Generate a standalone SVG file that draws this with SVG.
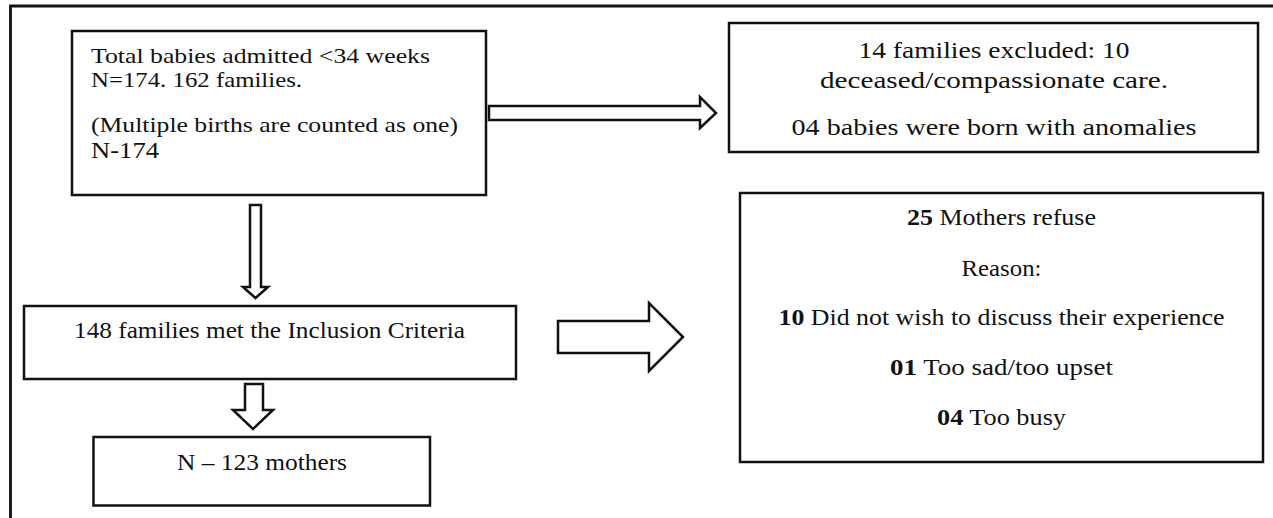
<svg xmlns="http://www.w3.org/2000/svg" width="1273" height="518" viewBox="0 0 1273 518">
<style>
.box{fill:#fff;stroke:#111;stroke-width:2.5}
.arrow{fill:#fff;stroke:#111;stroke-width:2.5;stroke-linejoin:miter}
.frame{fill:none;stroke:#111;stroke-width:2.8}
text{font-family:"Liberation Serif","Times New Roman",serif;fill:#111}
.c{text-anchor:middle}
.b{font-weight:bold}
</style>
<rect x="0" y="0" width="1273" height="518" fill="#fff"/>
<g id="frame">
<polyline class="frame" points="10.5,518 10.5,6 1273,6"/>
</g>
<g id="connectors">
<polygon class="arrow" points="489,106 700,106 700,97 716,113 700,128 700,120 489,120"/>
<polygon class="arrow" points="250,205 261,205 261,287 268,287 255.5,298 243,287 250,287"/>
<polygon class="arrow" points="245,384 263,384 263,410 273,410 253,429 233,410 245,410"/>
<polygon class="arrow" points="558,321 649,321 649,303 683,337 649,371 649,353 558,353"/>
</g>
<g id="node-total">
<rect class="box" x="72" y="31" width="414" height="164"/>
<text x="91" y="63" font-size="22" textLength="339" lengthAdjust="spacingAndGlyphs">Total babies admitted &lt;34 weeks</text>
<text x="91" y="87" font-size="22" textLength="211" lengthAdjust="spacingAndGlyphs">N=174. 162 families.</text>
<text x="91" y="132" font-size="22" textLength="367" lengthAdjust="spacingAndGlyphs">(Multiple births are counted as one)</text>
<text x="91" y="158" font-size="24" textLength="68" lengthAdjust="spacingAndGlyphs">N-174</text>
</g>
<g id="node-excluded">
<rect class="box" x="729" y="23" width="529" height="129"/>
<text class="c" x="994" y="58" font-size="24" textLength="271" lengthAdjust="spacingAndGlyphs">14 families excluded: 10</text>
<text class="c" x="994" y="88" font-size="24" textLength="348" lengthAdjust="spacingAndGlyphs">deceased/compassionate care.</text>
<text class="c" x="994" y="135" font-size="24" textLength="405" lengthAdjust="spacingAndGlyphs">04 babies were born with anomalies</text>
</g>
<g id="node-inclusion">
<rect class="box" x="24" y="306" width="492" height="73"/>
<text x="74" y="338" font-size="24" textLength="391" lengthAdjust="spacingAndGlyphs">148 families met the Inclusion Criteria</text>
</g>
<g id="node-mothers">
<rect class="box" x="93.5" y="437" width="336.5" height="68.5"/>
<text x="177" y="470" font-size="24" textLength="170" lengthAdjust="spacingAndGlyphs">N – 123 mothers</text>
</g>
<g id="node-refuse">
<rect class="box" x="740" y="193" width="523" height="269"/>
<text class="c" x="1001.5" y="225" font-size="24" textLength="189" lengthAdjust="spacingAndGlyphs"><tspan class="b">25</tspan> Mothers refuse</text>
<text class="c" x="1001.5" y="276" font-size="24" textLength="80" lengthAdjust="spacingAndGlyphs">Reason:</text>
<text class="c" x="1001.5" y="325" font-size="24" textLength="446" lengthAdjust="spacingAndGlyphs"><tspan class="b">10</tspan> Did not wish to discuss their experience</text>
<text class="c" x="1001.5" y="375" font-size="24" textLength="223" lengthAdjust="spacingAndGlyphs"><tspan class="b">01</tspan> Too sad/too upset</text>
<text class="c" x="1001.5" y="425" font-size="24" textLength="129" lengthAdjust="spacingAndGlyphs"><tspan class="b">04</tspan> Too busy</text>
</g>
</svg>
